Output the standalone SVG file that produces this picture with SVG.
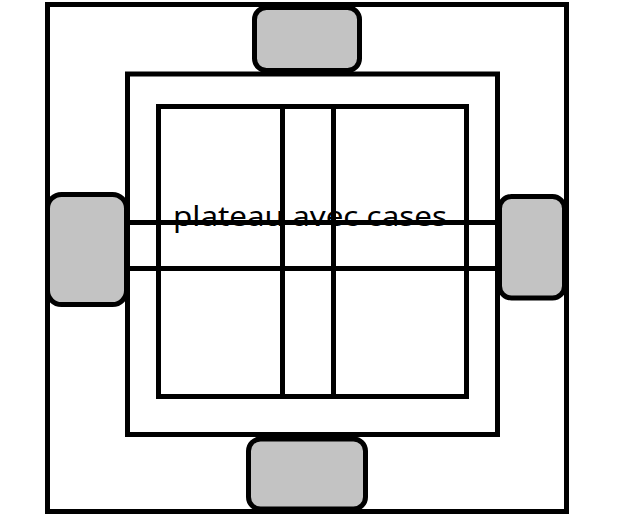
<svg xmlns="http://www.w3.org/2000/svg" width="634" height="529" viewBox="0 0 634 529">
<style>
.ln{fill:none;stroke:#000;stroke-width:5}
.pad{fill:#c3c3c3;stroke:#000;stroke-width:5}
.lbl{font-family:"Noto Sans","Open Sans",sans-serif;font-size:28px;fill:#000}
</style>
<rect width="634" height="529" fill="#fff"/>
<g id="outer"><rect class="ln" x="47.5" y="4.5" width="519" height="507"/></g>
<g id="inner"><rect class="ln" x="127.5" y="74" width="370" height="360.5"/></g>
<g id="board">
<rect class="ln" x="158.5" y="106.5" width="308" height="290"/>
<text class="lbl" x="173" y="226" textLength="274" lengthAdjust="spacingAndGlyphs">plateau avec cases</text>
</g>
<g id="connectors">
<line class="ln" x1="282.5" y1="106.5" x2="282.5" y2="396.5"/>
<line class="ln" x1="333.5" y1="106.5" x2="333.5" y2="396.5"/>
<line class="ln" x1="127.5" y1="222.5" x2="497.5" y2="222.5"/>
<line class="ln" x1="127.5" y1="268.5" x2="497.5" y2="268.5"/>
</g>
<g id="pad-top"><rect class="pad" x="254.5" y="7.5" width="105" height="63" rx="12"/></g>
<g id="pad-left"><rect class="pad" x="47.5" y="194.5" width="79" height="110" rx="14"/></g>
<g id="pad-right"><rect class="pad" x="499.5" y="196.5" width="65" height="101.5" rx="12"/></g>
<g id="pad-bottom"><rect class="pad" x="248.5" y="439" width="117" height="70" rx="12"/></g>
</svg>
